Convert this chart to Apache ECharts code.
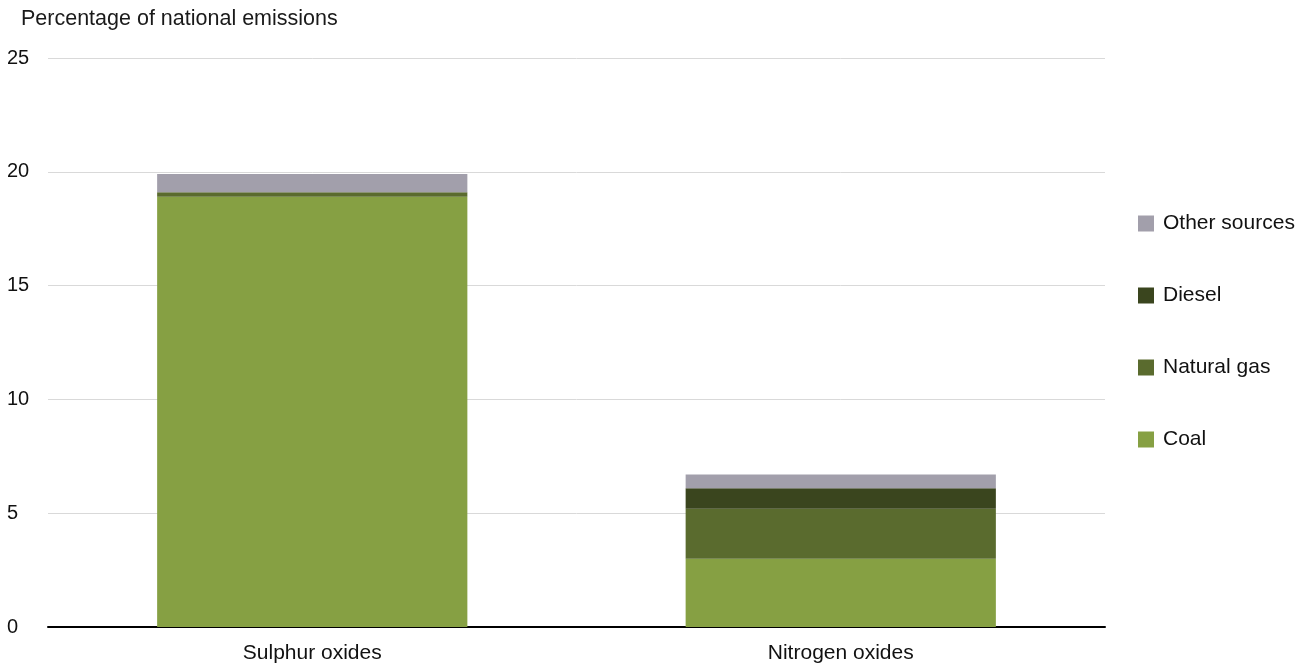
<!DOCTYPE html>
<html>
<head>
<meta charset="utf-8">
<script src="https://cdn.jsdelivr.net/npm/echarts@6/dist/echarts.min.js"></script>
<style>
  html, body { margin: 0; padding: 0; background: #fff; }
  #chart { width: 1298px; height: 664px; }
</style>
</head>
<body>
<div id="chart"></div>
<script>
// Pollutant categories on the x axis
const categories = ['Sulphur oxides', 'Nitrogen oxides'];

// Share of national emissions by source (%)
const coal = [18.9, 3.0];
const naturalGas = [0.2, 2.2];
const diesel = [0, 0.9];
const otherSources = [0.8, 0.6];

const yTicks = [0, 5, 10, 15, 20, 25];

const FONT = '"Liberation Sans", Arial, sans-serif';

const chart = echarts.init(document.getElementById('chart'));

function stackSeries(name, data, color) {
  return {
    name: name,
    type: 'bar',
    stack: 'total',
    data: data,
    barWidth: '58.7%',
    itemStyle: { color: color },
    emphasis: { disabled: true }
  };
}

chart.setOption({
  animation: false,
  textStyle: { fontFamily: FONT },
  title: {
    text: 'Percentage of national emissions',
    left: 16,
    top: 3,
    textStyle: { fontFamily: FONT, fontSize: 21.5, fontWeight: 'normal', color: '#1a1a1a' }
  },
  legend: {
    orient: 'vertical',
    left: 1133,
    top: 208,
    itemWidth: 16,
    itemHeight: 16,
    itemGap: 51,
    icon: 'rect',
    data: ['Other sources', 'Diesel', 'Natural gas', 'Coal'],
    textStyle: { fontFamily: FONT, fontSize: 21, color: '#111', padding: [0, 0, 0, 4] }
  },
  grid: { left: 48, right: 193, top: 58, bottom: 37, containLabel: false },
  xAxis: {
    type: 'category',
    data: categories,
    axisLine: { lineStyle: { color: '#000', width: 2 } },
    axisTick: { show: false },
    axisLabel: { fontFamily: FONT, fontSize: 21, color: '#111', margin: 16 }
  },
  yAxis: {
    type: 'value',
    min: yTicks[0],
    max: yTicks[yTicks.length - 1],
    interval: 5,
    axisLine: { show: false },
    axisTick: { show: false },
    splitLine: { lineStyle: { color: '#d9d9d9', width: 1 } },
    axisLabel: { fontFamily: FONT, fontSize: 20, color: '#111', align: 'left', margin: 41 }
  },
  series: [
    stackSeries('Coal', coal, '#86a043'),
    stackSeries('Natural gas', naturalGas, '#5a6b2e'),
    stackSeries('Diesel', diesel, '#3a451e'),
    stackSeries('Other sources', otherSources, '#a29fab')
  ]
});
</script>
</body>
</html>
